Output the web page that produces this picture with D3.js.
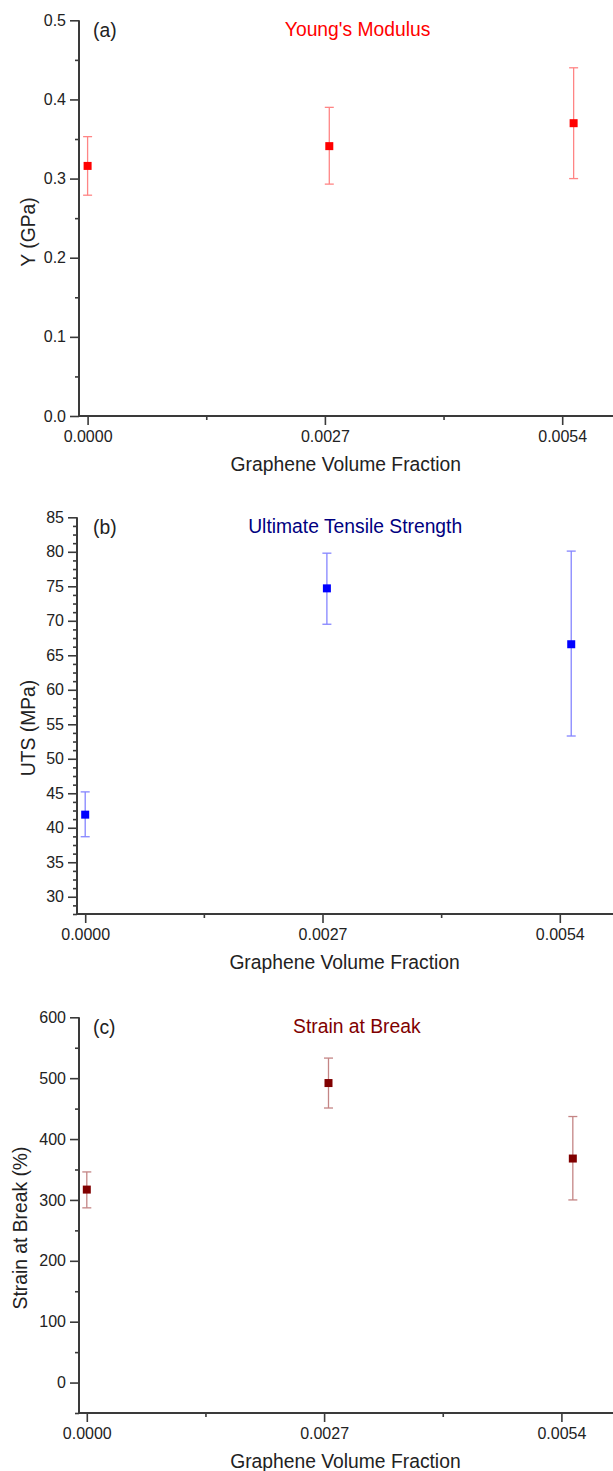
<!DOCTYPE html>
<html>
<script src="https://d3js.org/d3.v7.min.js"></script>
<style>
	body { margin: 0; background: #fff; }
	text { font-family: "Liberation Sans", Arial, sans-serif; fill: #222; }
</style>
<body>
	<svg id="chart"></svg>
</body>
<script type="text/javascript">

	let width = 613;
	let height = 1471;

	// values
	let volumeFraction = [0, 0.00275, 0.00553];
	let xTicks = [0, 0.0027, 0.0054];
	let xMinorTicks = [0.00135, 0.00405];

	let youngMean = [0.316, 0.341, 0.370];
	let youngLow = [0.279, 0.293, 0.300];
	let youngHigh = [0.353, 0.390, 0.440];

	let utsMean = [41.9, 74.7, 66.6];
	let utsLow = [38.7, 69.5, 53.3];
	let utsHigh = [45.2, 79.8, 80.1];

	let strainMean = [317, 492, 368];
	let strainLow = [287, 451, 300];
	let strainHigh = [346, 533, 437];

	let youngTicks = [0, 0.1, 0.2, 0.3, 0.4, 0.5];
	let utsTicks = [30, 35, 40, 45, 50, 55, 60, 65, 70, 75, 80, 85];
	let strainTicks = [0, 100, 200, 300, 400, 500, 600];

	//layout numbers (pixels)
	let tickLen = 9;
	let minorLen = 4;
	let capHalf = 4.5;
	let markerSize = 8;

	let panels = [
		{
			tag: "(a)", title: "Young's Modulus", yLabel: "Y (GPa)",
			mean: youngMean, low: youngLow, high: youngHigh,
			domain: [0, 0.5], ticks: youngTicks, minorStep: 0.05, fmt: d3.format(".1f"),
			top: 20.3, bottom: 416, axisX: 79, x0: 87.6, yLabelX: 35, yLabelY: 232,
			color: "#ff0000", barColor: "#ff8585", titleColor: "#ff0000"
		},
		{
			tag: "(b)", title: "Ultimate Tensile Strength", yLabel: "UTS (MPa)",
			mean: utsMean, low: utsLow, high: utsHigh,
			domain: [27.5, 85], ticks: utsTicks, minorStep: 1.25, fmt: d3.format("d"),
			top: 517.3, bottom: 914, axisX: 77, x0: 85.2, yLabelX: 35, yLabelY: 728,
			color: "#0000ff", barColor: "#8585ff", titleColor: "#000080"
		},
		{
			tag: "(c)", title: "Strain at Break", yLabel: "Strain at Break (%)",
			mean: strainMean, low: strainLow, high: strainHigh,
			domain: [-50, 600], ticks: strainTicks, minorStep: 50, fmt: d3.format("d"),
			top: 1017.3, bottom: 1413, axisX: 79, x0: 86.8, yLabelX: 27, yLabelY: 1228,
			color: "#800000", barColor: "#c48585", titleColor: "#800000"
		}
	];

	let chart = d3.select("#chart")
		.attr("width", width)
		.attr("height", height);

	panels.forEach(function(p){
		let g = chart.append("g");

		let xScale = d3.scaleLinear()
			.domain([0, 0.0054])
			.range([p.x0, p.x0 + 474.6]);

		let yScale = d3.scaleLinear()
			.domain(p.domain)
			.range([p.bottom, p.top]);

		// minor ticks on y (skip the majors)
		let minors = d3.range(p.domain[0], p.domain[1] + 1e-9, p.minorStep)
			.filter(function(v){
				return !p.ticks.some(function(t){ return Math.abs(t - v) < 1e-9 });
			});

		let yMinor = d3.axisLeft(yScale).tickValues(minors).tickSize(minorLen).tickFormat("");
		let yAxis = d3.axisLeft(yScale).tickValues(p.ticks).tickSize(tickLen).tickPadding(4).tickFormat(p.fmt);
		let xMinor = d3.axisBottom(xScale).tickValues(xMinorTicks).tickSize(minorLen).tickFormat("");
		let xAxis = d3.axisBottom(xScale).tickValues(xTicks).tickSize(tickLen).tickPadding(6).tickFormat(d3.format(".4f"));

		[yMinor, yAxis].forEach(function(ax){
			g.append("g")
				.attr("transform", "translate(" + p.axisX + ",0)")
				.call(ax);
		});
		[xMinor, xAxis].forEach(function(ax){
			g.append("g")
				.attr("transform", "translate(0," + p.bottom + ")")
				.call(ax);
		});

		g.selectAll(".domain").remove();
		g.selectAll(".tick line").attr("stroke", "#3a3a3a").attr("stroke-width", 1.6);
		g.selectAll(".tick text").style("font-size", "16px").attr("fill", "#222");

		// axis lines
		g.append("line")
			.attr("x1", p.axisX).attr("x2", p.axisX)
			.attr("y1", p.top).attr("y2", p.bottom)
			.attr("stroke", "#3a3a3a").attr("stroke-width", 2);
		g.append("line")
			.attr("x1", p.axisX - 1).attr("x2", width)
			.attr("y1", p.bottom).attr("y2", p.bottom)
			.attr("stroke", "#3a3a3a").attr("stroke-width", 2);

		// axis titles
		g.append("text")
			.attr("x", (p.x0 + 560) / 2 + 22)
			.attr("y", p.bottom + 55)
			.attr("text-anchor", "middle")
			.style("font-size", "19.3px")
			.text("Graphene Volume Fraction");

		g.append("text")
			.attr("transform", "translate(" + p.yLabelX + "," + p.yLabelY + ") rotate(-90)")
			.attr("text-anchor", "middle")
			.style("font-size", "19.3px")
			.text(p.yLabel);

		// panel tag and title
		g.append("text")
			.attr("x", 93)
			.attr("y", p.top + 16.5)
			.style("font-size", "19.3px")
			.text(p.tag);

		g.append("text")
			.attr("x", p.x0 + 270)
			.attr("y", p.top + 16)
			.attr("text-anchor", "middle")
			.style("font-size", "19.3px")
			.style("fill", p.titleColor)
			.text(p.title);

		let rows = volumeFraction.map(function(x, i){
			return { x: x, mean: p.mean[i], low: p.low[i], high: p.high[i] };
		});

		// error bars
		let bars = g.selectAll("g.bar")
			.data(rows)
			.enter().append("g")
			.classed("bar", true)
			.attr("stroke", p.barColor)
			.attr("stroke-width", 1.3);

		bars.append("line")
			.attr("x1", function(d){ return xScale(d.x) })
			.attr("x2", function(d){ return xScale(d.x) })
			.attr("y1", function(d){ return yScale(d.low) })
			.attr("y2", function(d){ return yScale(d.high) });

		["low", "high"].forEach(function(k){
			bars.append("line")
				.attr("x1", function(d){ return xScale(d.x) - capHalf })
				.attr("x2", function(d){ return xScale(d.x) + capHalf })
				.attr("y1", function(d){ return yScale(d[k]) })
				.attr("y2", function(d){ return yScale(d[k]) });
		});

		// square markers
		g.selectAll("rect.pt")
			.data(rows)
			.enter().append("rect")
			.classed("pt", true)
			.attr("x", function(d){ return xScale(d.x) - markerSize / 2 })
			.attr("y", function(d){ return yScale(d.mean) - markerSize / 2 })
			.attr("width", markerSize)
			.attr("height", markerSize)
			.attr("fill", p.color);
	});

</script>
</html>
